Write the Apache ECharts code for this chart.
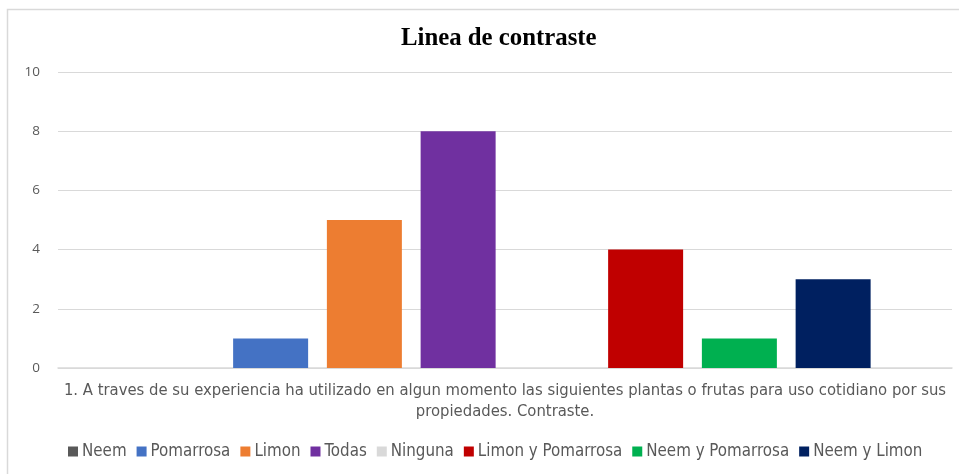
<!DOCTYPE html>
<html>
<head>
<meta charset="utf-8">
<script src="https://cdn.jsdelivr.net/npm/echarts@6/dist/echarts.min.js"></script>
<style>
html,body{margin:0;padding:0;background:#fff;}
#c{width:959px;height:474px;}
</style>
</head>
<body>
<div id="c"></div>
<script>
const categories = ['1. A traves de su experiencia ha utilizado en algun momento las siguientes plantas o frutas para uso cotidiano por sus\npropiedades. Contraste.'];
const seriesNames = ['Neem', 'Pomarrosa', 'Limon', 'Todas', 'Ninguna', 'Limon y Pomarrosa', 'Neem y Pomarrosa', 'Neem y Limon'];
const seriesValues = [0, 1, 5, 8, 0, 4, 1, 3];
const seriesColors = ['#595959', '#4472C4', '#ED7D31', '#7030A0', '#D9D9D9', '#C00000', '#00B050', '#002060'];
const yTicks = {min: 0, max: 10, interval: 2};

const chart = echarts.init(document.getElementById('c'), null, {renderer: 'canvas'});
const font = '"Liberation Sans Narrow", "DejaVu Sans Condensed", Arial, sans-serif';
chart.setOption({
  animation: false,
  graphic: [{
    type: 'rect', left: 5, top: 7, shape: {width: 960, height: 480},
    style: {fill: 'none', stroke: '#D9D9D9', lineWidth: 1.5}, silent: true, z: -1
  }],
  title: {
    text: 'Linea de contraste', left: 396, top: 21,
    textStyle: {fontFamily: '"Liberation Serif", "Times New Roman", serif', fontWeight: 'bold', fontSize: 24.8, color: '#000'}
  },
  legend: {
    bottom: 9, left: 63, itemWidth: 10, itemHeight: 10, itemGap: 10,
    icon: 'rect',
    textStyle: {fontFamily: font, fontSize: 16.8, color: '#595959', padding: [0, 0, 0, -1]},
    data: seriesNames
  },
  grid: {left: 58, right: 7, top: 72, bottom: 106, containLabel: false},
  xAxis: {
    type: 'category', data: categories,
    axisLine: {lineStyle: {color: '#D9D9D9', width: 1.5}},
    axisTick: {show: false},
    axisLabel: {fontFamily: font, fontSize: 16.5, color: '#595959', lineHeight: 21, margin: 12}
  },
  yAxis: {
    type: 'value', min: yTicks.min, max: yTicks.max, interval: yTicks.interval,
    axisLine: {show: false}, axisTick: {show: false},
    splitLine: {lineStyle: {color: '#D9D9D9', width: 1.2}},
    axisLabel: {fontFamily: '"Open Sans", sans-serif', fontSize: 13.5, color: '#595959', margin: 18}
  },
  series: seriesNames.map((n, i) => ({
    name: n, type: 'bar', data: [seriesValues[i]],
    barWidth: 75, barGap: '25%',
    itemStyle: {color: seriesColors[i]}
  }))
});
</script>
</body>
</html>
